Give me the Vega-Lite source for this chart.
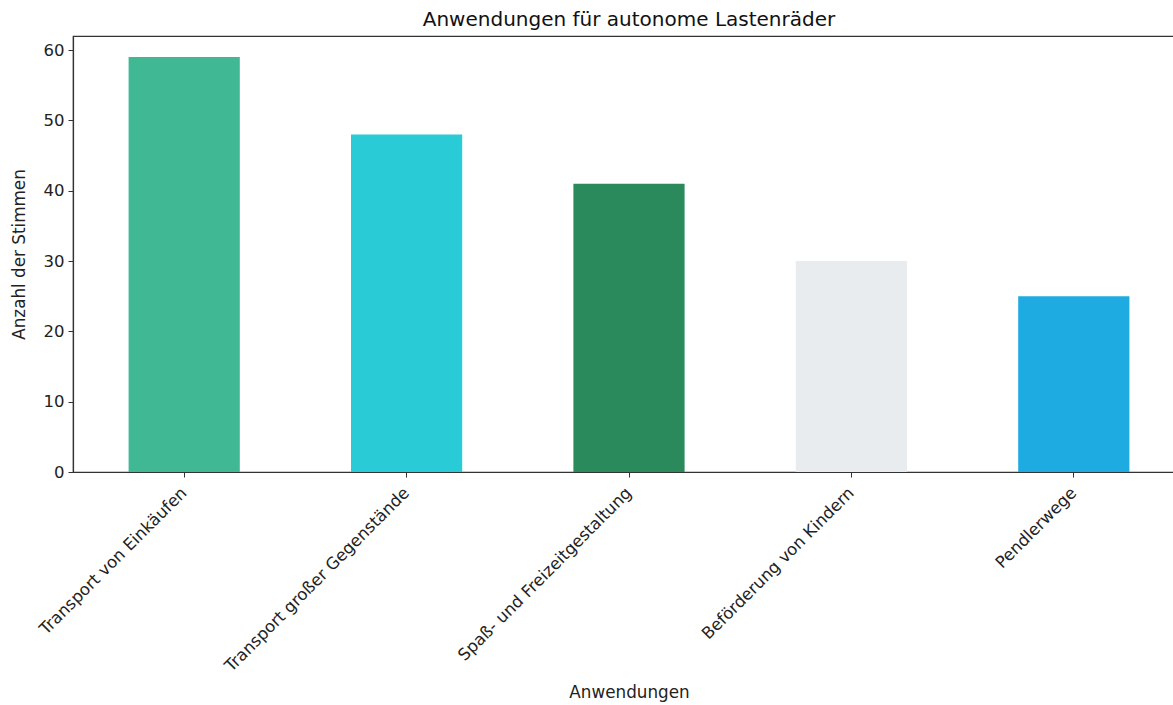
{
  "$schema": "https://vega.github.io/schema/vega-lite/v6.json",
  "autosize": {"type": "none"},
  "padding": {"left": 73, "top": 36, "right": 0, "bottom": 233},
  "width": 1112,
  "height": 436,
  "background": "white",
  "title": {
    "text": "Anwendungen für autonome Lastenräder",
    "font": "DejaVu Sans",
    "fontSize": 20,
    "fontWeight": "normal",
    "color": "#111",
    "anchor": "middle",
    "offset": 6
  },
  "config": {
    "view": {"stroke": "#333", "strokeWidth": 1.2},
    "font": "DejaVu Sans"
  },
  "data": {
    "values": [
      {"Anwendung": "Transport von Einkäufen", "Stimmen": 59},
      {"Anwendung": "Transport großer Gegenstände", "Stimmen": 48},
      {"Anwendung": "Spaß- und Freizeitgestaltung", "Stimmen": 41},
      {"Anwendung": "Beförderung von Kindern", "Stimmen": 30},
      {"Anwendung": "Pendlerwege", "Stimmen": 25}
    ]
  },
  "mark": {"type": "bar"},
  "encoding": {
    "x": {
      "field": "Anwendung",
      "type": "nominal",
      "sort": null,
      "scale": {"paddingInner": 0.5, "paddingOuter": 0.25},
      "axis": {
        "title": "Anwendungen",
        "titleFont": "DejaVu Sans",
        "titleFontSize": 16.8,
        "titleFontWeight": "normal",
        "titleColor": "#222",
        "titleY": 212,
        "labelAngle": -45,
        "labelAlign": "right",
        "labelBaseline": "middle",
        "labelFontSize": 16.5,
        "labelColor": "#222",
        "labelPadding": 13,
        "labelDx": -10,
        "labelLimit": 400,
        "tickSize": 5,
        "tickColor": "#333",
        "domainColor": "#333",
        "domainWidth": 1.2,
        "grid": false
      }
    },
    "y": {
      "field": "Stimmen",
      "type": "quantitative",
      "scale": {"domain": [0, 62], "nice": false},
      "axis": {
        "title": "Anzahl der Stimmen",
        "titleFont": "DejaVu Sans",
        "titleFontSize": 16.8,
        "titleFontWeight": "normal",
        "titleColor": "#222",
        "titleX": -45,
        "values": [0, 10, 20, 30, 40, 50, 60],
        "labelFontSize": 16.5,
        "labelColor": "#222",
        "labelPadding": 4,
        "tickSize": 5,
        "tickColor": "#333",
        "domainColor": "#333",
        "domainWidth": 1.2,
        "grid": false
      }
    },
    "color": {
      "field": "Anwendung",
      "type": "nominal",
      "sort": null,
      "scale": {
        "domain": ["Transport von Einkäufen", "Transport großer Gegenstände", "Spaß- und Freizeitgestaltung", "Beförderung von Kindern", "Pendlerwege"],
        "range": ["#41b894", "#29ccd6", "#2a8a5b", "#e8ecef", "#1eabe2"]
      },
      "legend": null
    }
  }
}
